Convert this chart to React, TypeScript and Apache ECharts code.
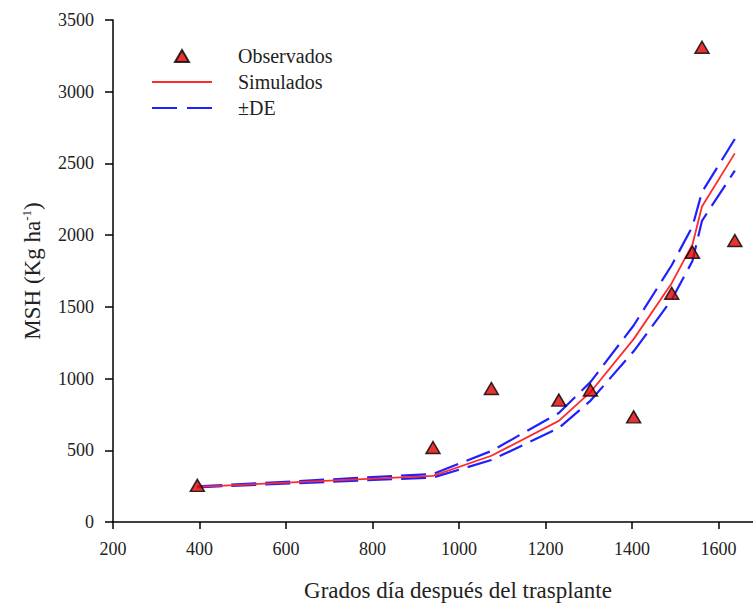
import React, { useEffect, useRef } from "react";
import * as echarts from "echarts";

const xTicks = [200, 400, 600, 800, 1000, 1200, 1400, 1600];
const obsX = [395, 940, 1075, 1231, 1304, 1404, 1492, 1540, 1562, 1638];
const obsY = [255, 519, 931, 850, 920, 733, 1595, 1881, 3310, 1963];
const simX = [395, 940, 1075, 1231, 1304, 1404, 1492, 1540, 1562, 1638];
const simY = [245, 322, 462, 705, 905, 1275, 1665, 1935, 2200, 2570];
const upY = [248, 335, 495, 760, 975, 1370, 1790, 2060, 2300, 2670];
const loY = [242, 310, 432, 655, 845, 1190, 1550, 1820, 2100, 2450];

const FONT = "'Liberation Serif', 'Times New Roman', serif";
const TXT = "#222";

export default function App() {
  const ref = useRef<HTMLDivElement>(null);
  useEffect(() => {
    if (!ref.current) return;
    const chart = echarts.init(ref.current, null, { renderer: "svg" });
    const pairs = (xs: number[], ys: number[]) => xs.map((x, i) => [x, ys[i]]);
    const blue = "#2020ff";
    const red = "#ff2a2a";
    chart.setOption({
      animation: false,
      backgroundColor: "#fff",
      textStyle: { fontFamily: FONT },
      grid: { left: 113, right: 0, top: 20, bottom: 86 },
      legend: {
        orient: "vertical",
        left: 147,
        top: 41,
        itemWidth: 60,
        itemHeight: 12,
        itemGap: 6,
        selectedMode: false,
        symbolKeepAspect: true,
        textStyle: { fontFamily: FONT, fontSize: 20, color: TXT, padding: [0, 0, 0, 21] },
        data: [
          { name: "Observados", icon: "path://M7,0L14,12L0,12Z" },
          { name: "Simulados", icon: "path://M0,0H60V2H0Z" },
          { name: "±DE", icon: "path://M0,0H25V2.2H0ZM35,0H60V2.2H35Z" },
        ],
      },
      xAxis: {
        type: "value",
        min: 200,
        max: 1680,
        interval: 200,
        name: "Grados día después del trasplante",
        nameLocation: "middle",
        nameGap: 57,
        nameTextStyle: { fontFamily: FONT, fontSize: 23, color: TXT, padding: [0, 0, 0, 50] },
        axisLine: { lineStyle: { color: "#000", width: 1.5 } },
        axisTick: { length: 7, lineStyle: { color: "#000", width: 1.5 }, customValues: xTicks },
        axisLabel: {
          fontFamily: FONT,
          fontSize: 18,
          color: TXT,
          margin: 18,
          customValues: xTicks,
          formatter: (v: number) => String(v),
        },
        splitLine: { show: false },
      },
      yAxis: {
        type: "value",
        min: 0,
        max: 3500,
        interval: 500,
        name: "MSH (Kg ha{sup|-1})",
        nameLocation: "middle",
        nameGap: 69,
        nameTextStyle: {
          fontFamily: FONT,
          fontSize: 23,
          color: TXT,
          rich: { sup: { fontFamily: FONT, fontSize: 13, color: TXT, padding: [0, 0, 11, 0] } },
        },
        axisLine: { show: true, lineStyle: { color: "#000", width: 1.5 } },
        axisTick: { show: true, length: 8, lineStyle: { color: "#000", width: 1.5 } },
        axisLabel: {
          fontFamily: FONT,
          fontSize: 18,
          color: TXT,
          margin: 19,
          formatter: (v: number) => String(v),
        },
        splitLine: { show: false },
      },
      series: [
        {
          name: "±DE",
          type: "line",
          data: pairs(simX, upY),
          symbol: "none",
          lineStyle: { color: blue, width: 2.2, type: [25, 9] },
          itemStyle: { color: blue },
        },
        {
          name: "±DE",
          type: "line",
          data: pairs(simX, loY),
          symbol: "none",
          lineStyle: { color: blue, width: 2.2, type: [25, 9] },
          itemStyle: { color: blue },
        },
        {
          name: "Simulados",
          type: "line",
          data: pairs(simX, simY),
          symbol: "none",
          lineStyle: { color: red, width: 1.8 },
          itemStyle: { color: red },
        },
        {
          name: "Observados",
          type: "scatter",
          data: pairs(obsX, obsY),
          symbol: "triangle",
          symbolSize: [14, 12],
          itemStyle: { color: "#e00000", borderColor: "#000", borderWidth: 1.5 },
          z: 5,
        },
      ],
    });
    return () => chart.dispose();
  }, []);
  return <div ref={ref} style={{ width: 753, height: 608, position: "absolute", left: 0, top: 0 }} />;
}
